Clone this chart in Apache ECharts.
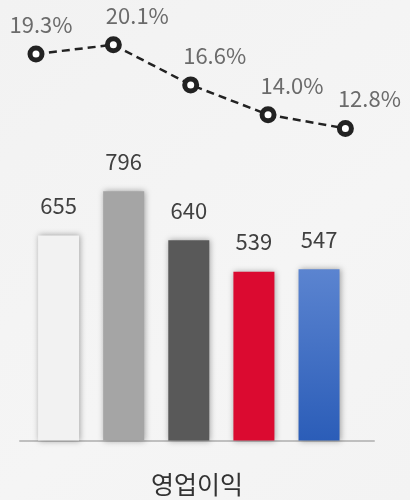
<!DOCTYPE html>
<html>
<head>
<meta charset="utf-8">
<script src="https://cdn.jsdelivr.net/npm/echarts@6/dist/echarts.min.js"></script>
<style>
  html, body { margin: 0; padding: 0; }
  #chart { width: 410px; height: 500px; }
</style>
</head>
<body>
<div id="chart"></div>
<script>
// 데이터
const category = ['영업이익']
const groups = ['1', '2', '3', '4', '5']
const profit = [655, 796, 640, 539, 547]
const margin = [19.3, 20.1, 16.6, 14.0, 12.8]

const barColors = [
  '#f2f2f2',
  '#a5a5a5',
  '#595959',
  '#db0a30',
  new echarts.graphic.LinearGradient(0, 0, 0, 1, [
    { offset: 0, color: '#5b84d0' },
    { offset: 1, color: '#2b5db8' }
  ])
]

const font = 'Noto Sans CJK KR'

const chart = echarts.init(document.getElementById('chart'))

chart.setOption({
  animation: false,
  backgroundColor: new echarts.graphic.LinearGradient(0, 0, 1, 1, [
    { offset: 0, color: '#f2f2f2' },
    { offset: 0.6, color: '#f5f5f5' },
    { offset: 1, color: '#f3f3f3' }
  ]),
  textStyle: { fontFamily: font },
  grid: [
    { left: 26, right: 58.4, top: 127.5, bottom: 59.5 },
    { left: 20, right: 36, top: 127.5, bottom: 59.5 },
    { left: 36, right: 64.6, top: 23, bottom: 339.5 }
  ],
  xAxis: [
    { type: 'category', gridIndex: 0, data: groups, show: false },
    {
      type: 'category', gridIndex: 1, data: category,
      axisLine: { lineStyle: { color: '#bfbfbf', width: 2 } },
      axisTick: { show: false },
      axisLabel: { fontSize: 25, color: '#333', margin: 31, fontFamily: font }
    },
    { type: 'category', gridIndex: 2, data: groups, boundaryGap: false, show: false }
  ],
  yAxis: [
    { type: 'value', gridIndex: 0, min: 0, max: 1000, show: false },
    { type: 'value', gridIndex: 1, min: 0, max: 1000, show: false },
    { type: 'value', gridIndex: 2, min: 10, max: 22, show: false }
  ],
  series: [
    {
      type: 'bar',
      xAxisIndex: 0,
      yAxisIndex: 0,
      barWidth: 41,
      data: profit.map((v, i) => ({ value: v, itemStyle: { color: barColors[i] } })),
      itemStyle: {
        shadowBlur: 6,
        shadowColor: 'rgba(0,0,0,0.35)',
        shadowOffsetX: 1
      },
      label: {
        show: true,
        position: 'top',
        distance: 19,
        fontSize: 22,
        color: '#404040',
        fontFamily: font
      }
    },
    {
      type: 'line',
      xAxisIndex: 2,
      yAxisIndex: 2,
      clip: false,
      data: margin.map((v, i) => i === 0 ? { value: v, label: { offset: [5, 0] } } : v),
      symbol: 'circle',
      symbolSize: 12,
      itemStyle: { color: '#fff', borderColor: '#222', borderWidth: 5 },
      lineStyle: { color: '#222', width: 2.5, type: [8, 5] },
      label: {
        show: true,
        position: 'top',
        distance: 10,
        offset: [24, 0],
        fontSize: 22,
        color: '#6b6b6b',
        fontFamily: font,
        formatter: p => p.value.toFixed(1) + '%'
      }
    }
  ]
})
</script>
</body>
</html>
